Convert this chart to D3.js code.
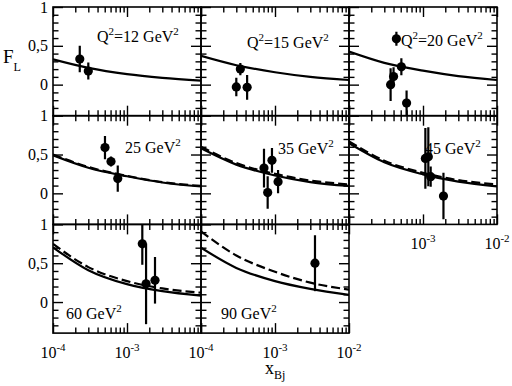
<!DOCTYPE html>
<html>
<head>
<meta charset="utf-8">
<script src="https://cdn.jsdelivr.net/npm/d3@7"></script>
<style>
  body { margin: 0; background: #fff; }
</style>
</head>
<body>
<script>
// Q^2 of each panel (GeV^2)
var q2Values = [12, 15, 20, 25, 35, 45, 60, 90];

var curveX = [1e-4, 3e-4, 1e-3, 3e-3, 1e-2];

// solid model curves, one per panel
var solidQ12 = [0.325, 0.215, 0.135, 0.088, 0.053];
var solidQ15 = [0.37, 0.25, 0.16, 0.10, 0.06];
var solidQ20 = [0.425, 0.28, 0.18, 0.11, 0.06];
var solidQ25 = [0.49, 0.33, 0.22, 0.14, 0.088];
var solidQ35 = [0.58, 0.37, 0.23, 0.145, 0.095];
var solidQ45 = [0.645, 0.40, 0.245, 0.15, 0.09];
var solidQ60 = [0.705, 0.41, 0.23, 0.14, 0.083];
var solidQ90 = [0.70, 0.44, 0.27, 0.17, 0.092];

// dashed model curves (not visible in the first row)
var dashQ25 = [0.50, 0.34, 0.225, 0.145, 0.095];
var dashQ35 = [0.60, 0.39, 0.25, 0.165, 0.115];
var dashQ45 = [0.67, 0.42, 0.265, 0.17, 0.115];
var dashQ60 = [0.75, 0.45, 0.27, 0.175, 0.12];
var dashQ90 = [0.91, 0.60, 0.39, 0.25, 0.16];

// data points: [x, F_L, error]
var pointsQ12 = [[2.3e-4, 0.33, 0.17], [3.0e-4, 0.175, 0.11]];
var pointsQ15 = [[3.4e-4, 0.20, 0.08], [3.0e-4, -0.03, 0.12], [4.2e-4, -0.035, 0.16]];
var pointsQ20 = [[4.37e-4, 0.59, 0.09], [3.65e-4, 0.0, 0.21], [4.0e-4, 0.105, 0.12],
                 [5.1e-4, 0.23, 0.11], [6.0e-4, -0.237, 0.16]];
var pointsQ25 = [[5.04e-4, 0.59, 0.15], [6.08e-4, 0.41, 0.065], [7.5e-4, 0.19, 0.17]];
var pointsQ35 = [[7.1e-4, 0.325, 0.25], [7.96e-4, 0.01, 0.21], [9.1e-4, 0.425, 0.16],
                 [1.1e-3, 0.15, 0.15]];
var pointsQ45 = [[1.076e-3, 0.45, 0.39], [1.18e-3, 0.47, 0.38], [1.27e-3, 0.215, 0.13],
                 [1.89e-3, -0.035, 0.30]];
var pointsQ60 = [[1.61e-3, 0.75, 0.27], [1.81e-3, 0.235, 0.52], [2.39e-3, 0.28, 0.30]];
var pointsQ90 = [[3.47e-3, 0.50, 0.36]];

var yTickLabels = ["1", "0,5", "0"];
var yTickValues = [1, 0.5, 0];
var xTickExp = [-4, -3, -2];

var solids = [solidQ12, solidQ15, solidQ20, solidQ25, solidQ35, solidQ45, solidQ60, solidQ90];
var dashes = [null, null, null, dashQ25, dashQ35, dashQ45, dashQ60, dashQ90];
var points = [pointsQ12, pointsQ15, pointsQ20, pointsQ25, pointsQ35, pointsQ45, pointsQ60, pointsQ90];

// layout
var padLeft = 53, padTop = 7, pw = 148, ph = 108.7;
var serif = "'Liberation Serif', 'Times New Roman', Times, serif";
// label offset inside each panel (x, baseline)
var labelPos = [[44, 35], [46, 41], [52, 39], [72, 37], [77, 38], [76, 38], [13, 95], [20, 95]];

var svg = d3.select("body").append("svg")
    .attr("width", 512)
    .attr("height", 386)
    .attr("font-family", serif)
    .style("font-family", serif);

var x = d3.scaleLog().domain([1e-4, 1e-2]).range([0, pw]);
var y = d3.scaleLinear().domain([-0.4, 1]).range([ph, 0]);

var majorX = [1e-4, 1e-3, 1e-2];
var minorX = [];
[1e-4, 1e-3].forEach(function(d) {
    for (var k = 2; k <= 9; k++) minorX.push(d * k);
});
var majorY = [0, 0.5, 1];
var minorY = d3.range(-3, 10).map(function(k) { return k / 10; })
    .filter(function(v) { return Math.abs(v * 2 - Math.round(v * 2)) > 1e-6; });

var line = d3.line()
    .x(function(d) { return x(d[0]); })
    .y(function(d) { return y(d[1]); })
    .curve(d3.curveMonotoneX);

function addText(sel) {
    return sel.append("text").attr("font-family", serif).style("font-family", serif).attr("fill", "#000");
}

function superText(sel, parts, size, supSize) {
    parts.forEach(function(p) {
        var t = sel.append("tspan").text(p[0]);
        if (p[1] === 1) t.attr("dy", -7).style("font-size", supSize + "px");
        else if (p[1] === 2) t.attr("dy", 7).style("font-size", size + "px");
    });
}

function drawAxes(g) {
    var sides = [
        [d3.axisBottom(x), "translate(0," + ph + ")", majorX, minorX],
        [d3.axisTop(x), "translate(0,0)", majorX, minorX],
        [d3.axisLeft(y), "translate(0,0)", majorY, minorY],
        [d3.axisRight(y), "translate(" + pw + ",0)", majorY, minorY]
    ];
    sides.forEach(function(s) {
        [[s[2], 10], [s[3], 5.5]].forEach(function(t) {
            var ax = s[0].tickValues(t[0]).tickSize(-t[1]).tickFormat("");
            var a = g.append("g").attr("transform", s[1]).call(ax);
            a.select(".domain").remove();
            a.selectAll("line").attr("stroke", "#000").attr("stroke-width", 1.4);
        });
    });
    g.append("rect")
        .attr("width", pw).attr("height", ph)
        .attr("fill", "none").attr("stroke", "#000").attr("stroke-width", 1.6);
}

var defs = svg.append("defs");
defs.append("clipPath").attr("id", "clip")
    .append("rect").attr("width", pw).attr("height", ph);

q2Values.forEach(function(q, i) {
    var col = i % 3, row = Math.floor(i / 3);
    var g = svg.append("g")
        .attr("transform", "translate(" + (padLeft + col * pw) + "," + (padTop + row * ph) + ")");

    var lbl = addText(g)
        .attr("x", labelPos[i][0]).attr("y", labelPos[i][1])
        .style("font-size", "16px");
    if (i < 3) superText(lbl, [["Q", 0], ["2", 1], ["=" + q + " GeV", 2], ["2", 1]], 16, 11);
    else superText(lbl, [[q + " GeV", 0], ["2", 1]], 16, 11);

    var plot = g.append("g").attr("clip-path", "url(#clip)");
    plot.append("path")
        .datum(curveX.map(function(d, k) { return [d, solids[i][k]]; }))
        .attr("d", line).attr("fill", "none")
        .attr("stroke", "#000").attr("stroke-width", 2.2);
    if (dashes[i]) {
        plot.append("path")
            .datum(curveX.map(function(d, k) { return [d, dashes[i][k]]; }))
            .attr("d", line).attr("fill", "none")
            .attr("stroke", "#000").attr("stroke-width", 2.2)
            .attr("stroke-dasharray", "9,4");
    }
    plot.selectAll("line.err").data(points[i]).enter().append("line")
        .attr("x1", function(d) { return x(d[0]); })
        .attr("x2", function(d) { return x(d[0]); })
        .attr("y1", function(d) { return y(d[1] + d[2]); })
        .attr("y2", function(d) { return y(d[1] - d[2]); })
        .attr("stroke", "#000").attr("stroke-width", 2.2);
    plot.selectAll("circle").data(points[i]).enter().append("circle")
        .attr("cx", function(d) { return x(d[0]); })
        .attr("cy", function(d) { return y(d[1]); })
        .attr("r", 4.6).attr("fill", "#000");

    drawAxes(g);

    // y tick labels on the first column
    if (col === 0) {
        yTickValues.forEach(function(v, k) {
            addText(g)
                .attr("x", -5).attr("y", y(v) + 5.5)
                .attr("text-anchor", "end")
                .style("font-size", "16px")
                .text(yTickLabels[k]);
        });
    }
    // x tick labels under the bottom panel of each column
    var bottomPanel = (row === 2) || (i === 5);
    if (bottomPanel) {
        xTickExp.forEach(function(e) {
            if (col === 0 && e === -2) return;
            if (i === 5 && e === -4) return;
            var t = addText(g)
                .attr("x", x(Math.pow(10, e)))
                .attr("y", ph + 25)
                .attr("text-anchor", "middle")
                .style("font-size", "16px");
            superText(t, [["10", 0], ["-" + (-e), 1]], 16, 11);
        });
    }
});

// axis titles
var fl = addText(svg).attr("x", 3).attr("y", 63).style("font-size", "19px");
fl.append("tspan").text("F");
fl.append("tspan").attr("dy", 8).style("font-size", "12px").text("L");

var xb = addText(svg).attr("x", 265).attr("y", 374).style("font-size", "18px");
xb.append("tspan").text("x");
xb.append("tspan").attr("dy", 5).style("font-size", "12px").text("Bj");
</script>
</body>
</html>
